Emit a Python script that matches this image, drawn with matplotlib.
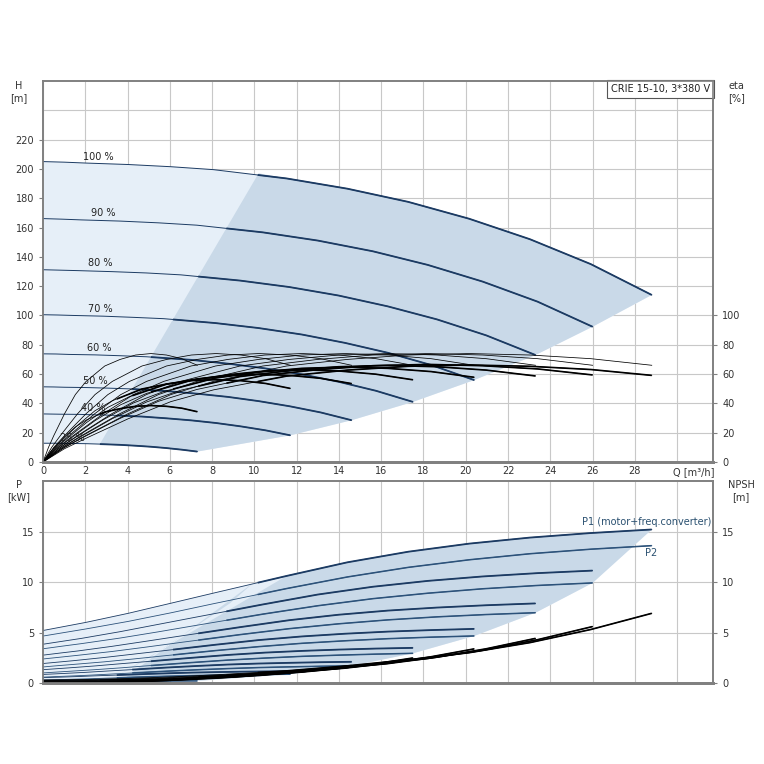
import matplotlib.pyplot as plt
import numpy as np

plt.rcParams['font.family'] = ['DejaVu Sans']

# speed curves, 25 % ... 100 %
speeds = ['25 %', '40 %', '50 %', '60 %', '70 %', '80 %', '90 %', '100 %']

# flow points along each speed curve [m3/h]
q_pts = [
    [0, 0.26, 0.51, 1.02, 1.53, 2.04, 2.92, 3.65, 4.38, 5.11, 5.84, 6.57, 7.3],
    [0, 0.41, 0.82, 1.64, 2.46, 3.28, 4.68, 5.85, 7.02, 8.19, 9.36, 10.53, 11.7],
    [0, 0.51, 1.02, 2.04, 3.07, 4.09, 5.84, 7.3, 8.76, 10.22, 11.68, 13.14, 14.6],
    [0, 0.61, 1.23, 2.45, 3.68, 4.9, 7.0, 8.75, 10.5, 12.25, 14.0, 15.75, 17.5],
    [0, 0.71, 1.43, 2.86, 4.28, 5.71, 8.16, 10.2, 12.24, 14.28, 16.32, 18.36, 20.4],
    [0, 0.82, 1.63, 3.26, 4.89, 6.52, 9.32, 11.65, 13.98, 16.31, 18.64, 20.97, 23.3],
    [0, 0.91, 1.82, 3.64, 5.46, 7.28, 10.4, 13.0, 15.6, 18.2, 20.8, 23.4, 26.0],
    [0, 1.01, 2.02, 4.03, 6.05, 8.06, 11.52, 14.4, 17.28, 20.16, 23.04, 25.92, 28.8],
]

# head [m]
h_pts = [
    [12.8, 12.8, 12.8, 12.7, 12.6, 12.5, 12.1, 11.7, 11.1, 10.4, 9.5, 8.4, 7.1],
    [32.8, 32.7, 32.6, 32.5, 32.2, 31.9, 31.0, 29.8, 28.4, 26.6, 24.3, 21.6, 18.2],
    [51.3, 51.2, 51.0, 50.8, 50.4, 49.9, 48.4, 46.6, 44.4, 41.5, 38.0, 33.8, 28.5],
    [73.8, 73.7, 73.4, 73.1, 72.5, 71.8, 69.7, 67.1, 63.9, 59.8, 54.7, 48.6, 41.0],
    [100.5, 100.3, 100.0, 99.5, 98.7, 97.8, 94.8, 91.4, 87.0, 81.3, 74.5, 66.2, 55.9],
    [131.2, 130.9, 130.6, 129.9, 129.0, 127.7, 123.8, 119.4, 113.6, 106.2, 97.3, 86.4, 73.0],
    [166.1, 165.7, 165.2, 164.4, 163.2, 161.6, 156.7, 151.1, 143.8, 134.5, 123.1, 109.4, 92.3],
    [205, 204.6, 204, 203, 201.5, 199.5, 193.5, 186.5, 177.5, 166, 152, 135, 114],
]

# pump efficiency [%] (same along every speed curve)
eta_pump = [0, 10, 18, 33, 46, 55, 65.5, 70, 73, 74, 73, 70.5, 66]

# total efficiency [%]
eta_total = [
    [0, 5.2, 9.4, 17.2, 23.9, 28.6, 34.1, 36.4, 38.0, 38.5, 38.0, 36.7, 34.3],
    [0, 7.6, 13.7, 25.1, 35.0, 41.8, 49.8, 53.2, 55.5, 56.2, 55.5, 53.6, 50.2],
    [0, 8.1, 14.6, 26.7, 37.3, 44.6, 53.1, 56.7, 59.1, 59.9, 59.1, 57.1, 53.5],
    [0, 8.5, 15.3, 28.1, 39.1, 46.8, 55.7, 59.5, 62.1, 62.9, 62.1, 59.9, 56.1],
    [0, 8.8, 15.8, 28.9, 40.3, 48.1, 57.3, 61.3, 63.9, 64.8, 63.9, 61.7, 57.8],
    [0, 8.9, 16.0, 29.4, 40.9, 49.0, 58.3, 62.3, 65.0, 65.9, 65.0, 62.7, 58.7],
    [0, 9.0, 16.2, 29.7, 41.4, 49.5, 59.0, 63.0, 65.7, 66.6, 65.7, 63.5, 59.4],
    [0, 9.0, 16.1, 29.5, 41.2, 49.2, 58.6, 62.7, 65.3, 66.2, 65.3, 63.1, 59.1],
]

# power P1 (motor+freq.converter) [kW]
p1_pts = [
    [0.23, 0.24, 0.24, 0.26, 0.27, 0.29, 0.32, 0.34, 0.35, 0.37, 0.37, 0.38, 0.39],
    [0.53, 0.56, 0.58, 0.64, 0.71, 0.77, 0.88, 0.96, 1.03, 1.08, 1.12, 1.15, 1.17],
    [0.85, 0.9, 0.95, 1.06, 1.19, 1.31, 1.53, 1.69, 1.83, 1.93, 2.0, 2.06, 2.1],
    [1.32, 1.41, 1.5, 1.69, 1.91, 2.12, 2.49, 2.78, 3.01, 3.18, 3.31, 3.41, 3.48],
    [1.93, 2.07, 2.21, 2.52, 2.86, 3.2, 3.79, 4.25, 4.61, 4.88, 5.09, 5.24, 5.36],
    [2.76, 2.97, 3.17, 3.63, 4.14, 4.66, 5.53, 6.22, 6.76, 7.17, 7.47, 7.7, 7.88],
    [3.84, 4.13, 4.42, 5.08, 5.81, 6.54, 7.78, 8.76, 9.53, 10.11, 10.55, 10.88, 11.13],
    [5.2, 5.6, 6.0, 6.9, 7.9, 8.9, 10.6, 11.95, 13.0, 13.8, 14.4, 14.85, 15.2],
]

# power P2 [kW]
p2_pts = [
    [0.07, 0.08, 0.08, 0.1, 0.11, 0.12, 0.15, 0.16, 0.18, 0.19, 0.2, 0.21, 0.21],
    [0.3, 0.32, 0.34, 0.39, 0.44, 0.5, 0.6, 0.67, 0.73, 0.78, 0.82, 0.85, 0.87],
    [0.58, 0.63, 0.67, 0.76, 0.87, 0.98, 1.17, 1.31, 1.43, 1.53, 1.6, 1.66, 1.7],
    [1.0, 1.08, 1.16, 1.32, 1.5, 1.7, 2.02, 2.27, 2.47, 2.64, 2.76, 2.86, 2.94],
    [1.59, 1.72, 1.84, 2.09, 2.38, 2.69, 3.21, 3.6, 3.93, 4.18, 4.39, 4.54, 4.66],
    [2.38, 2.56, 2.74, 3.12, 3.56, 4.02, 4.79, 5.38, 5.86, 6.25, 6.55, 6.78, 6.96],
    [3.39, 3.65, 3.9, 4.45, 5.07, 5.72, 6.82, 7.65, 8.35, 8.89, 9.33, 9.66, 9.91],
    [4.65, 5.0, 5.35, 6.1, 6.95, 7.85, 9.35, 10.5, 11.45, 12.2, 12.8, 13.25, 13.6],
]

# NPSH [m]
npsh_pts = [
    [0.02, 0.02, 0.02, 0.03, 0.04, 0.05, 0.08, 0.11, 0.14, 0.19, 0.25, 0.33, 0.43],
    [0.05, 0.05, 0.06, 0.07, 0.1, 0.13, 0.19, 0.27, 0.37, 0.48, 0.64, 0.85, 1.1],
    [0.08, 0.08, 0.09, 0.11, 0.15, 0.2, 0.3, 0.43, 0.58, 0.75, 1.0, 1.33, 1.73],
    [0.11, 0.12, 0.13, 0.16, 0.22, 0.29, 0.43, 0.61, 0.83, 1.08, 1.44, 1.91, 2.48],
    [0.15, 0.16, 0.17, 0.22, 0.29, 0.39, 0.59, 0.83, 1.13, 1.47, 1.96, 2.6, 3.38],
    [0.19, 0.2, 0.22, 0.29, 0.38, 0.51, 0.77, 1.09, 1.47, 1.92, 2.56, 3.39, 4.42],
    [0.24, 0.26, 0.28, 0.36, 0.49, 0.65, 0.97, 1.38, 1.86, 2.43, 3.24, 4.29, 5.59],
    [0.3, 0.32, 0.35, 0.45, 0.6, 0.8, 1.2, 1.7, 2.3, 3.0, 4.0, 5.3, 6.9],
]

# min-flow boundary of the recommended range
minflow_q = [2.7, 10.2]
minflow_h = [12.5, 197]
pmin_q = [10.0, 8.85, 5.1, 3.0]
pmin_p = [10.0, 7.9, 2.6, 0.1]

LIGHT = '#e6eff8'
DARK = '#c9d9e8'
CURVE = '#1c3b63'
CURVE2 = '#2c527a'
THIN = '#2a3848'
GRID = '#c8c8c8'
SPINE = '#808080'
TXT = '#333333'


def min_flow(q, h):
    # flow where a head curve crosses the min-flow line
    slope = (minflow_h[1] - minflow_h[0]) / (minflow_q[1] - minflow_q[0])
    qq = np.linspace(0, q[-1], 2000)
    diff = np.interp(qq, q, h) - (minflow_h[0] + (qq - minflow_q[0]) * slope)
    idx = np.argmax(diff <= 0)
    return qq[idx]


def draw_split(ax, q, y, qmin, color, lw_thin, lw_thick, z):
    q = np.asarray(q, dtype=float)
    y = np.asarray(y, dtype=float)
    ax.plot(q, y, color=color, lw=lw_thin, zorder=z)
    keep = q > qmin
    ax.plot(np.r_[qmin, q[keep]], np.r_[np.interp(qmin, q, y), y[keep]],
            color=color, lw=lw_thick, zorder=z, solid_capstyle='butt')


fig = plt.figure(figsize=(7.64, 7.64), dpi=100)
ax1 = fig.add_axes([0.0563, 0.3953, 0.877, 0.4987])
ax2 = fig.add_axes([0.0563, 0.106, 0.877, 0.2644])

q25 = np.array(q_pts[0])
q100 = np.array(q_pts[-1])
h25 = np.array(h_pts[0])
h100 = np.array(h_pts[-1])
ends_q = [q[-1] for q in q_pts]
ends_h = [h[-1] for h in h_pts]
qmins = [min_flow(q_pts[i], h_pts[i]) for i in range(len(speeds))]

# ---- top: H / eta ----
light_x = list(q100) + ends_q[::-1][1:] + list(q25[::-1])
light_y = list(h100) + ends_h[::-1][1:] + list(h25[::-1])
ax1.fill(light_x, light_y, color=LIGHT, lw=0, zorder=1)

sel25 = q25 > minflow_q[0]
sel100 = q100 > minflow_q[1]
dark_x = [minflow_q[0]] + list(q25[sel25]) + ends_q[1:-1] + list(q100[sel100][::-1]) + [minflow_q[1]]
dark_y = [minflow_h[0]] + list(h25[sel25]) + ends_h[1:-1] + list(h100[sel100][::-1]) + [minflow_h[1]]
ax1.fill(dark_x, dark_y, color=DARK, lw=0, zorder=1)

for i in range(len(speeds)):
    draw_split(ax1, q_pts[i], h_pts[i], qmins[i], CURVE, 0.7, 1.3, 3)
    ax1.plot(q_pts[i], eta_pump, color='black', lw=0.55, zorder=4)
    draw_split(ax1, q_pts[i], eta_total[i], qmins[i], 'black', 0.55, 1.2, 4)

label_pos = [(1.4, 16.6), (2.4, 36.8), (2.46, 55.3), (2.67, 78), (2.73, 104.7),
             (2.73, 135.8), (2.84, 170), (2.6, 208.2)]
for name, (lx, ly) in zip(speeds, label_pos):
    ax1.text(lx, ly, name, fontsize=7, ha='center', va='center', color='#222222', zorder=10)

ax1.set_xlim(0, 31.7)
ax1.set_ylim(0, 260)
ax1.set_xticks(range(0, 29, 2))
ax1.set_yticks(range(0, 221, 20))
ax1.grid(True, color=GRID, lw=0.8, zorder=0)
ax1.axhline(240, color=GRID, lw=0.8, zorder=0)
ax1.axvline(30, color=GRID, lw=0.8, zorder=0)
ax1.set_axisbelow(True)
ax1.tick_params(axis='x', length=0, pad=3, labelsize=7, colors=TXT)
ax1.tick_params(axis='y', length=3, width=0.8, color=SPINE, labelsize=7, labelcolor=TXT)

ax1r = ax1.twinx()
ax1r.set_ylim(0, 260)
ax1r.set_yticks(range(0, 101, 20))
ax1r.tick_params(axis='y', length=3, width=0.8, color=SPINE, labelsize=7, labelcolor=TXT)

ax1.text(0.9955, 0.992, 'CRIE 15-10, 3*380 V', transform=ax1.transAxes, fontsize=7,
         ha='right', va='top', color='#222222', zorder=11,
         bbox=dict(boxstyle='square,pad=0.45', fc='white', ec='#555555', lw=0.8))

# ---- bottom: P / NPSH ----
p1_100 = np.array(p1_pts[-1])
p2_25 = np.array(p2_pts[0])
p2_ends = [p[-1] for p in p2_pts]
pl_x = list(q100) + ends_q[::-1][1:] + list(q25[::-1])
pl_y = list(p1_100) + p2_ends[::-1][1:] + list(p2_25[::-1])
ax2.fill(pl_x, pl_y, color=LIGHT, lw=0, zorder=1)

s100 = q100 > pmin_q[0]
s25 = q25 > pmin_q[-1]
pd_x = list(pmin_q[::-1]) + list(q25[s25]) + ends_q[1:-1] + list(q100[s100][::-1])
pd_y = list(pmin_p[::-1]) + list(p2_25[s25]) + p2_ends[1:-1] + list(p1_100[s100][::-1])
ax2.fill(pd_x, pd_y, color=DARK, lw=0, zorder=1)

for i in range(len(speeds)):
    draw_split(ax2, q_pts[i], p1_pts[i], qmins[i], CURVE, 0.6, 1.3, 3)
    draw_split(ax2, q_pts[i], p2_pts[i], qmins[i], CURVE2, 0.6, 1.1, 3)
    draw_split(ax2, q_pts[i], npsh_pts[i], qmins[i], 'black', 0.6, 1.2, 4)

ax2.text(31.6, 15.9, 'P1 (motor+freq.converter)', fontsize=7, ha='right', va='center',
         color='#2a5070', zorder=5)
ax2.text(28.5, 12.9, 'P2', fontsize=7, ha='left', va='center', color='#2a5070', zorder=5)

ax2.set_xlim(0, 31.7)
ax2.set_ylim(0, 20)
ax2.set_xticks(range(0, 31, 2))
ax2.set_yticks([0, 5, 10, 15])
ax2.grid(True, color=GRID, lw=0.8, zorder=0)
ax2.set_axisbelow(True)
ax2.tick_params(axis='x', length=0, labelbottom=False)
ax2.tick_params(axis='y', length=3, width=0.8, color=SPINE, labelsize=7, labelcolor=TXT)

ax2r = ax2.twinx()
ax2r.set_ylim(0, 20)
ax2r.set_yticks([0, 5, 10, 15])
ax2r.tick_params(axis='y', length=3, width=0.8, color=SPINE, labelsize=7, labelcolor=TXT)

for ax in (ax1, ax1r, ax2, ax2r):
    for side in ('left', 'right', 'top'):
        ax.spines[side].set_color(SPINE)
        ax.spines[side].set_linewidth(1.2)
    ax.spines['bottom'].set_color(SPINE)
    ax.spines['bottom'].set_linewidth(2)

# axis titles
fig.text(0.025, 0.8796, 'H\n[m]', fontsize=7, ha='center', va='center', color=TXT)
fig.text(0.964, 0.8796, 'eta\n[%]', fontsize=7, ha='center', va='center', color=TXT)
fig.text(0.881, 0.382, 'Q [m³/h]', fontsize=7, ha='left', va='center', color=TXT)
fig.text(0.025, 0.357, 'P\n[kW]', fontsize=7, ha='center', va='center', color=TXT)
fig.text(0.970, 0.357, 'NPSH\n[m]', fontsize=7, ha='center', va='center', color=TXT)

fig.savefig('out.png', dpi=100, facecolor='white')
